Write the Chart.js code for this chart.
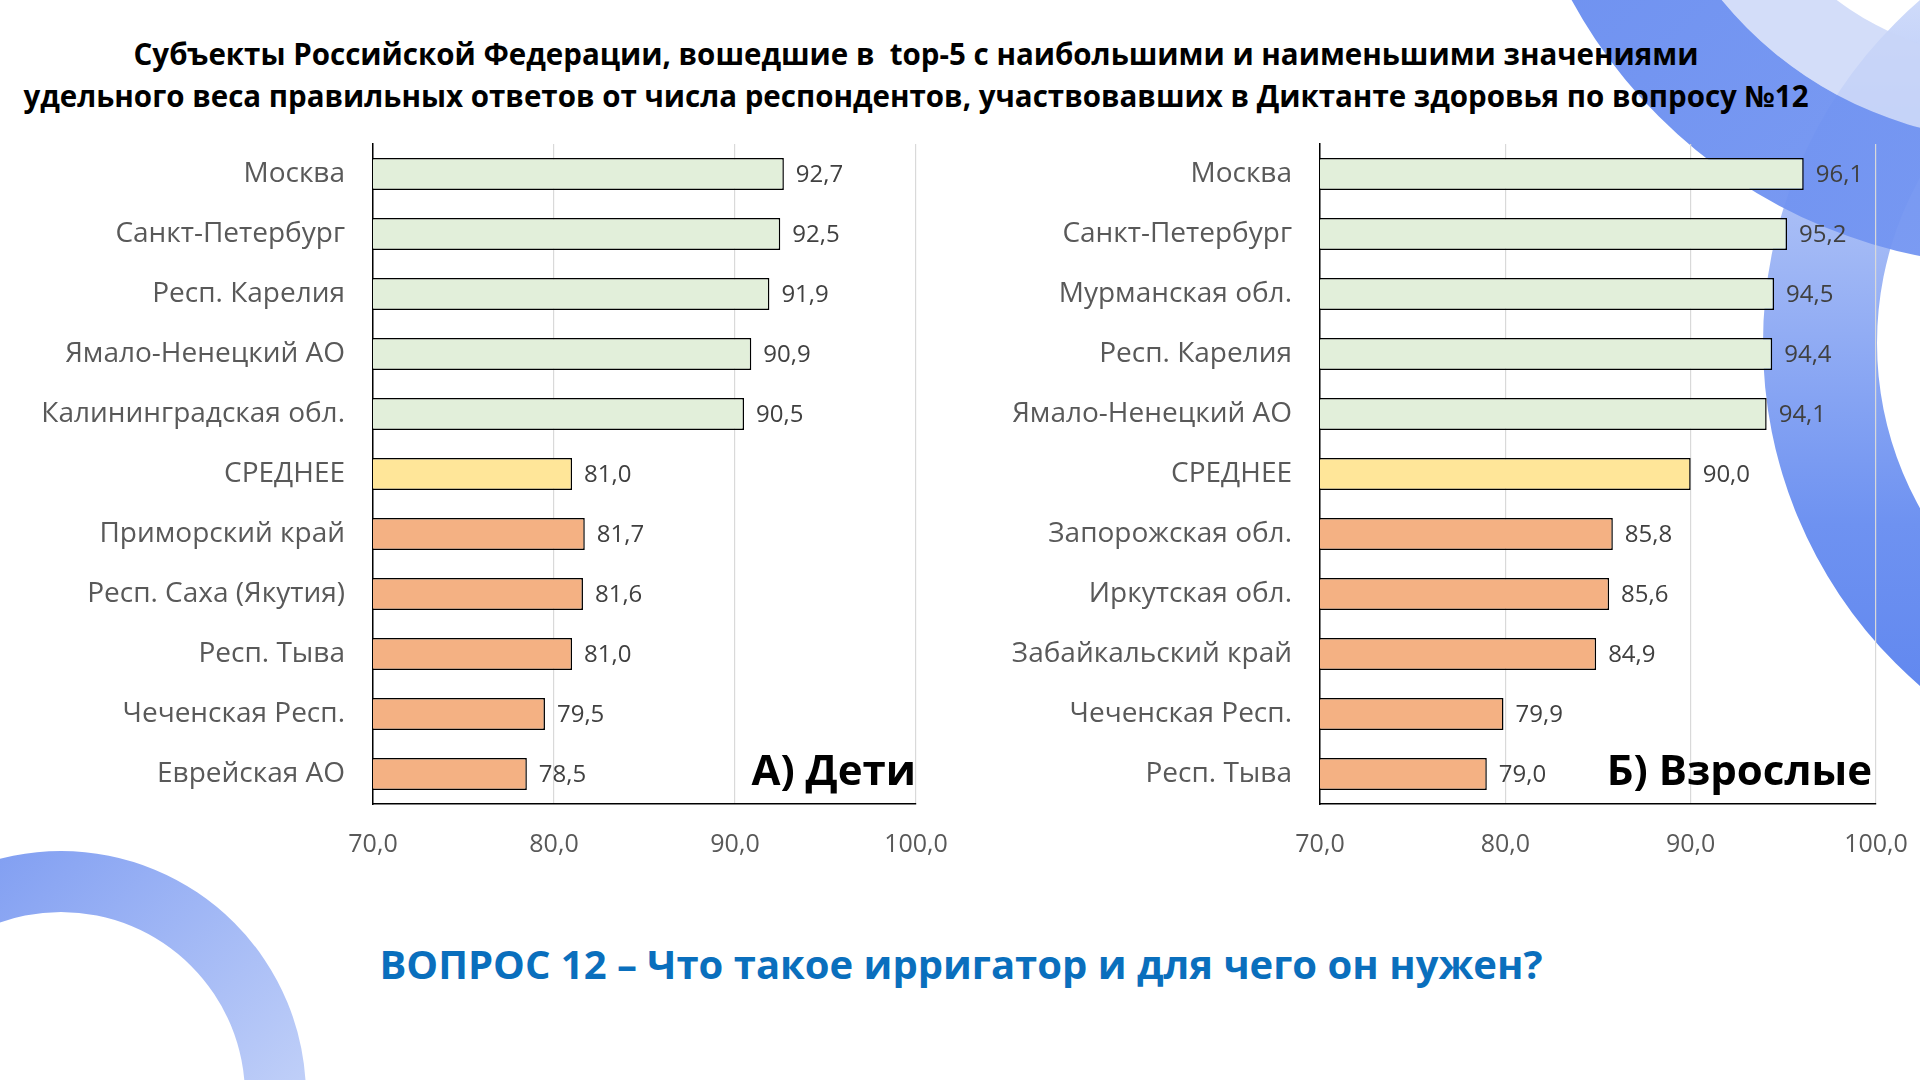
<!DOCTYPE html>
<html lang="ru">
<head>
<meta charset="utf-8">
<script src="https://cdn.jsdelivr.net/npm/chart.js@4.4.1/dist/chart.umd.min.js"></script>
<style>
    html, body { margin: 0; padding: 0; background: #fff; }
    body { width: 1920px; height: 1080px; position: relative; overflow: hidden; font-family: 'Open Sans', sans-serif; }
    #bg { position: absolute; left: 0; top: 0; }
    .title { position: absolute; left: 0; width: 1832px; text-align: center; font-weight: 700; font-size: 29.5px; color: #000; white-space: pre; }
    .chart { position: absolute; top: 120px; }
    .tag { position: absolute; font-weight: 700; font-size: 42px; color: #000; line-height: 1; top: 748px; white-space: nowrap; }
    .question { position: absolute; left: 0; width: 1922px; top: 936px; text-align: center; font-weight: 700; font-size: 40px; color: #0a6fbd; }
</style>
</head>
<body>
<svg id="bg" width="1920" height="1080">
    <defs>
        <linearGradient id="gA" x1="0" y1="0" x2="1" y2="1">
            <stop offset="0" stop-color="#5a82ee"/>
            <stop offset="1" stop-color="#7f9ef3"/>
        </linearGradient>
        <linearGradient id="gB" x1="0" y1="0" x2="0" y2="1">
            <stop offset="0" stop-color="#e3eafc"/>
            <stop offset="0.35" stop-color="#a9bef6"/>
            <stop offset="0.7" stop-color="#6e92f1"/>
            <stop offset="1" stop-color="#5a82ee"/>
        </linearGradient>
        <linearGradient id="gC" x1="0" y1="0" x2="1" y2="1">
            <stop offset="0" stop-color="#6d8ff0"/>
            <stop offset="1" stop-color="#dde6fb"/>
        </linearGradient>
    </defs>
    <path fill="url(#gB)" fill-rule="evenodd" d="M 1763 343 a 453 453 0 1 0 906 0 a 453 453 0 1 0 -906 0 Z M 1877 343 a 339 339 0 1 0 678 0 a 339 339 0 1 0 -678 0 Z"/>
    <path fill="#c8d5f8" fill-opacity="0.8" fill-rule="evenodd" d="M 1634 -245 a 386 386 0 1 0 772 0 a 386 386 0 1 0 -772 0 Z M 1714 -245 a 306 306 0 1 0 612 0 a 306 306 0 1 0 -612 0 Z"/>
    <path fill="url(#gA)" fill-opacity="0.95" fill-rule="evenodd" d="M 1509 -245 a 511 511 0 1 0 1022 0 a 511 511 0 1 0 -1022 0 Z M 1634 -245 a 386 386 0 1 0 772 0 a 386 386 0 1 0 -772 0 Z"/>
    <path fill="url(#gC)" fill-rule="evenodd" d="M -184 1096 a 245 245 0 1 0 490 0 a 245 245 0 1 0 -490 0 Z M -123 1096 a 184 184 0 1 0 368 0 a 184 184 0 1 0 -368 0 Z"/>
</svg>

<div class="title" style="top:33px">Субъекты Российской Федерации, вошедшие в  top-5 с наибольшими и наименьшими значениями</div>
<div class="title" style="top:75px">удельного веса правильных ответов от числа респондентов, участвовавших в Диктанте здоровья по вопросу №12</div>

<canvas id="chartKids" class="chart" style="left:0px" width="960" height="764"></canvas>
<canvas id="chartAdults" class="chart" style="left:960px" width="960" height="764"></canvas>

<div class="tag" style="right:1004px">А) Дети</div>
<div class="tag" style="right:48px">Б) Взрослые</div>

<div class="question">ВОПРОС 12 – Что такое ирригатор и для чего он нужен?</div>

<script>
const kidsLabels = ['Москва', 'Санкт-Петербург', 'Респ. Карелия', 'Ямало-Ненецкий АО', 'Калининградская обл.',
    'СРЕДНЕЕ', 'Приморский край', 'Респ. Саха (Якутия)', 'Респ. Тыва', 'Чеченская Респ.', 'Еврейская АО'];
const kidsValues = [92.7, 92.5, 91.9, 90.9, 90.5, 81.0, 81.7, 81.6, 81.0, 79.5, 78.5];

const adultLabels = ['Москва', 'Санкт-Петербург', 'Мурманская обл.', 'Респ. Карелия', 'Ямало-Ненецкий АО',
    'СРЕДНЕЕ', 'Запорожская обл.', 'Иркутская обл.', 'Забайкальский край', 'Чеченская Респ.', 'Респ. Тыва'];
const adultValues = [96.1, 95.2, 94.5, 94.4, 94.1, 90.0, 85.8, 85.6, 84.9, 79.9, 79.0];

const xTicks = [70, 80, 90, 100];

const barColors = ['#e2efda', '#e2efda', '#e2efda', '#e2efda', '#e2efda',
    '#ffe699', '#f4b183', '#f4b183', '#f4b183', '#f4b183', '#f4b183'];

const fmt = v => v.toFixed(1).replace('.', ',');

// подписи значений справа от столбцов
const valueLabels = {
    id: 'valueLabels',
    afterDatasetsDraw(chart) {
        const ctx = chart.ctx;
        const meta = chart.getDatasetMeta(0);
        ctx.save();
        ctx.font = '24px "Open Sans"';
        ctx.fillStyle = '#404040';
        ctx.textAlign = 'left';
        ctx.textBaseline = 'middle';
        meta.data.forEach((bar, i) => {
            ctx.fillText(fmt(chart.data.datasets[0].data[i]), bar.x + 12, bar.y + 1);
        });
        ctx.restore();
    }
};

function renderBars(id, labels, values, axisWidth) {
    const canvas = document.getElementById(id);
    if (!canvas || typeof Chart === 'undefined') return;

    new Chart(canvas, {
        type: 'bar',
        data: {
            labels: labels,
            datasets: [{
                data: values,
                backgroundColor: barColors,
                borderColor: '#000',
                borderWidth: 1.5,
                categoryPercentage: 1,
                barPercentage: 0.53
            }]
        },
        options: {
            indexAxis: 'y',
            responsive: false,
            animation: false,
            devicePixelRatio: 1,
            layout: { padding: { top: 24, right: 44, bottom: 0, left: 0 } },
            plugins: {
                legend: { display: false },
                tooltip: { enabled: false }
            },
            scales: {
                x: {
                    min: 70,
                    max: 100,
                    afterBuildTicks: s => { s.ticks = xTicks.map(v => ({ value: v })); },
                    afterFit: s => { s.height = 80; s.paddingLeft = 0; s.paddingRight = 0; },
                    grid: { color: '#d9d9d9', lineWidth: 1.2, drawTicks: false },
                    border: { color: '#000', width: 1.5 },
                    ticks: {
                        padding: 26,
                        color: '#595959',
                        font: { family: 'Open Sans', size: 25 },
                        callback: v => fmt(v)
                    }
                },
                y: {
                    afterFit: s => { s.width = axisWidth; s.paddingTop = 0; s.paddingBottom = 0; },
                    grid: { display: false, drawTicks: false },
                    border: { color: '#000', width: 1.5 },
                    ticks: {
                        padding: 28,
                        color: '#595959',
                        font: { family: 'Open Sans', size: 28 }
                    }
                }
            }
        },
        plugins: [valueLabels]
    });
}

document.addEventListener('DOMContentLoaded', () => {
    renderBars('chartKids', kidsLabels, kidsValues, 373);
    renderBars('chartAdults', adultLabels, adultValues, 360);
});
</script>
</body>
</html>
